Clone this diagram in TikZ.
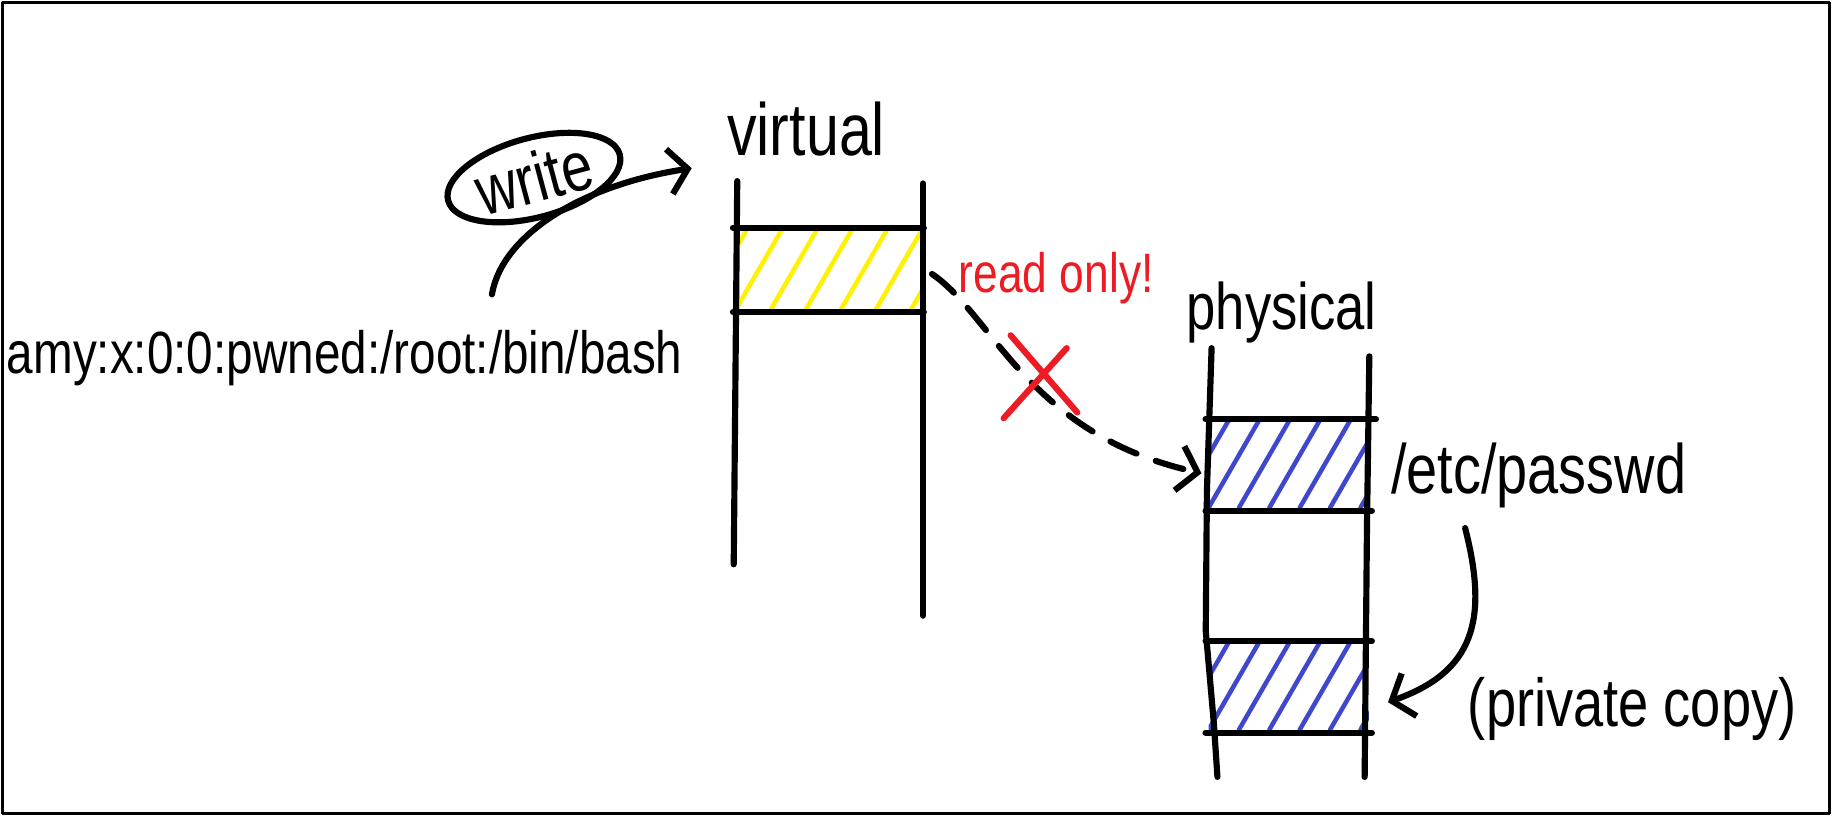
\documentclass[tikz,border=0pt]{standalone}
\usepackage{fontspec}
\newfontfamily\handfont[FakeStretch=0.8]{Liberation Sans}
\usetikzlibrary{arrows.meta,calc,shapes.geometric}

\definecolor{pageyellow}{RGB}{255,242,0}
\definecolor{pageblue}{RGB}{63,72,204}
\definecolor{warnred}{RGB}{237,28,36}

\begin{document}
\begin{tikzpicture}[
                    x=0.01cm, y=-0.01cm,
                    line width=1.5pt,
                    line cap=round,
                    line join=round,
                    every node/.style={inner sep=0pt},
                    hand/.style={font=\handfont\fontsize{16pt}{18pt}\selectfont},
                    barb/.style={-{Straight Barb[length=4.5pt,width=11pt]}},
                    page/.style={
                        rectangle,
                        minimum width=1.37cm,
                        minimum height=0.73cm
                    },
                    hatched/.style 2 args={
                        path picture={
                            \foreach \k in {-4,...,9}
                                \draw[#1, line width=1.1pt]
                                    ($(path picture bounding box.south west)+(\k*#2,0)$)
                                    -- ++(60:1.2cm);
                        }
                    }
                ]

                    \useasboundingbox (0,0) rectangle (1568,698);
                    \draw[line width=0.8pt] (2,2) rectangle (1566,696);

                    % labels
                    \node[hand, anchor=base, font=\handfont\fontsize{18pt}{20pt}\selectfont] (virt) at (690,133) {virtual};
                    \node[hand, anchor=base] (phys) at (1097,282) {physical};
                    \node[hand, anchor=base, text=warnred, font=\handfont\fontsize{13.5pt}{15pt}\selectfont] (ro) at (904,250) {read only!};
                    \node[hand, anchor=base, font=\handfont\fontsize{17pt}{19pt}\selectfont] (etc) at (1317,422) {/etc/passwd};
                    \node[hand, anchor=base, font=\handfont\fontsize{16.5pt}{18pt}\selectfont] (priv) at (1397,622) {(private copy)};
                    \node[hand, anchor=base, font=\handfont\fontsize{14.5pt}{16pt}\selectfont] (line) at (295,320) {amy:x:0:0:pwned:/root:/bin/bash};
                    \node[hand, draw, ellipse, rotate=15, minimum width=1.52cm, minimum height=0.68cm,
                          font=\handfont\fontsize{17pt}{19pt}\selectfont] (wr) at (457,152) {write};

                    % pages
                    \node[page, minimum width=1.58cm, minimum height=0.67cm, hatched={pageyellow}{30}] (vpage) at (709,231) {};
                    \node[page, hatched={pageblue}{26}] (ppage) at (1103,398) {};
                    \node[page, hatched={pageblue}{26}] (pcopy) at (1103,588) {};

                    \draw (vpage.north west) -- (vpage.north east);
                    \draw (vpage.south west) -- (vpage.south east);
                    \draw (ppage.north west) -- ([xshift=1pt]ppage.north east);
                    \draw (ppage.south west) -- (ppage.south east);
                    \draw (pcopy.north west) -- (pcopy.north east);
                    \draw (pcopy.south west) -- (pcopy.south east);

                    % columns
                    \draw (631,155) -- (628,483);
                    \draw (790,157) -- (790,527);
                    \draw (1037,298) -- (1033,420) -- (1032,540) -- (1039,620) -- (1042,665);
                    \draw (1172,305) -- (1170,450) -- (1168,665);

                    % arrows
                    \coordinate (wstart) at (421,252);
                    \coordinate (wend) at (592,144);
                    \draw[barb] (wstart) .. controls (430,200) and (500,158) .. (wend);

                    \draw[barb, dash pattern=on 7pt off 5pt]
                        ([xshift=2pt, yshift=-1pt]vpage.east) .. controls (850,270) and (880,372) .. ([xshift=-1pt, yshift=-2pt]ppage.west);

                    \draw[warnred] (865,287) -- (922,353);
                    \draw[warnred] (913,298) -- (859,358);

                    \coordinate (cstart) at (1254,452);
                    \coordinate (cend) at (1188,601);
                    \draw[barb] (cstart) .. controls (1274,530) and (1262,575) .. (cend);
                \end{tikzpicture}
\end{document}
